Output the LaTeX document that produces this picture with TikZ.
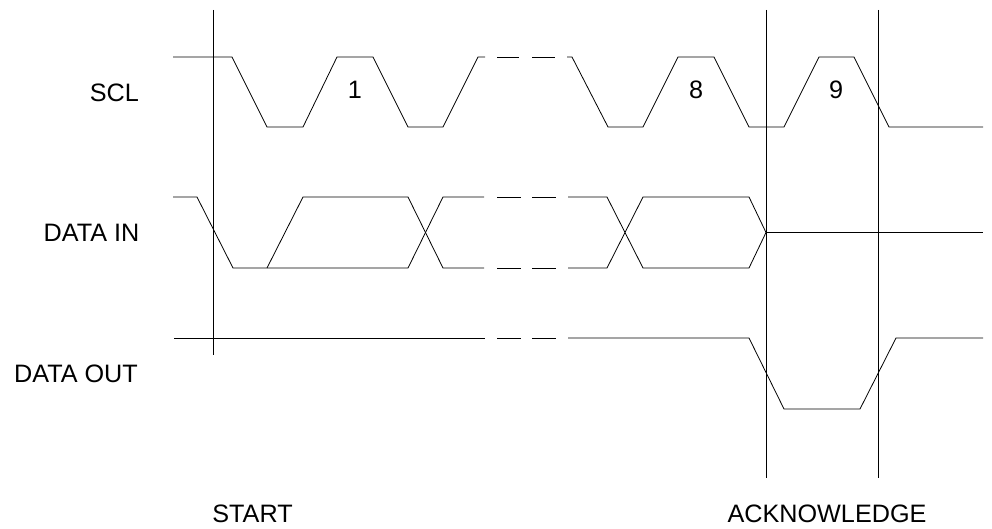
\documentclass[tikz,border=0pt]{standalone}
\usepackage{fontspec}
\setmainfont{Liberation Sans}
\begin{document}
\begin{tikzpicture}[x=1pt,y=-1pt,
  wave/.style={line width=0.8pt, line join=miter},
  marker/.style={line width=0.8pt},
  lbl/.style={font=\fontsize{25.2}{29}\selectfont, inner sep=0pt}]
\useasboundingbox (0,0) rectangle (992,529);
% labels
\node[lbl, anchor=east] (scl) at (139,92.5) {SCL};
\node[lbl, anchor=east] (din) at (139.5,232.5) {DATA IN};
\node[lbl, anchor=east] (dout) at (138,374) {DATA OUT};
\node[lbl] (start) at (252.5,514) {START};
\node[lbl] (ack) at (827,514) {ACKNOWLEDGE};
\node[lbl] (n1) at (355,90) {1};
\node[lbl] (n8) at (696,90) {8};
\node[lbl] (n9) at (836,90) {9};
% marker lines
\coordinate (st1) at (213.5,10);
\coordinate (st2) at (213.5,355);
\coordinate (ak1) at (766,10);
\coordinate (ak2) at (766,478);
\coordinate (ak3) at (878,10);
\coordinate (ak4) at (878,478);
\draw[marker] (st1) -- (st2);
\draw[marker] (ak1) -- (ak2);
\draw[marker] (ak3) -- (ak4);
% SCL
\draw[wave] (173,57) -- (232,57) -- (267,127) -- (303,127) -- (337,57) -- (373,57) -- (408,127) -- (443,127) -- (478,57) -- (485,57);
\draw[wave] (497,57) -- (519,57) (532,57) -- (555,57);
\draw[wave] (567,57) -- (572,57) -- (608,127) -- (643,127) -- (678,57) -- (714,57) -- (749,127) -- (784,127) -- (819,57) -- (854,57) -- (889,127) -- (983,127);
% DATA IN
\draw[wave] (173,197) -- (197,197) -- (233,268) -- (408,268) -- (443,197) -- (484,197);
\draw[wave] (267,268) -- (303,197) -- (408,197) -- (443,268) -- (484,268);
\draw[wave] (497,197) -- (521,197) (532,197) -- (556,197)
            (497,268) -- (521,268) (532,268) -- (556,268);
\draw[wave] (568,197) -- (607,197) -- (643,268) -- (749,268) -- (766,232.5) -- (749,197) -- (643,197) -- (607,268) -- (568,268);
\draw[wave] (766,232.5) -- (983,232.5);
% DATA OUT
\draw[wave] (174,338) -- (485,338);
\draw[wave] (497,338) -- (521,338) (532,338) -- (556,338);
\draw[wave] (568,338) -- (749,338) -- (784,409) -- (860,409) -- (896,338) -- (983,338);
\end{tikzpicture}
\end{document}
